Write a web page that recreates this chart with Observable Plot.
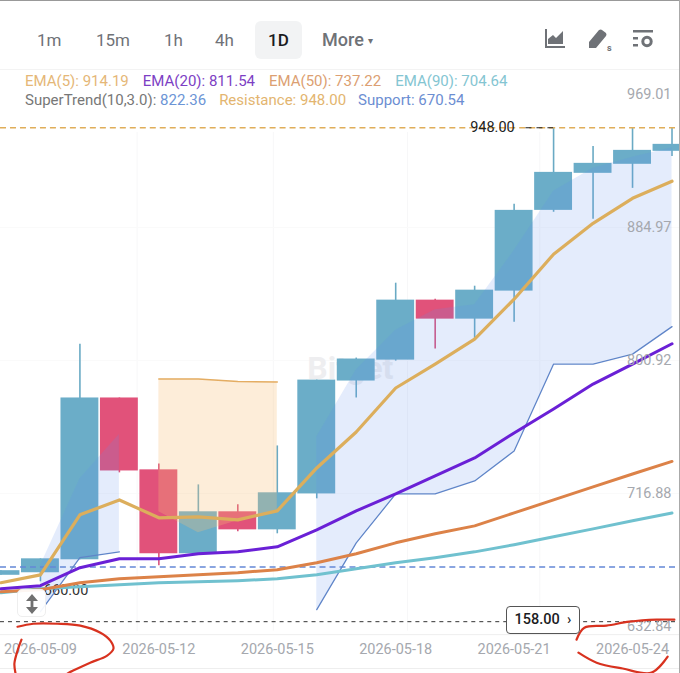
<!DOCTYPE html>
<html><head><meta charset="utf-8">
<script src="https://cdn.jsdelivr.net/npm/d3@7"></script>
<script src="https://cdn.jsdelivr.net/npm/@observablehq/plot@0.6"></script>
<style>
html,body{margin:0;padding:0;background:#fff;width:680px;height:673px;overflow:hidden;font-family:Roboto,sans-serif}
#page{position:relative;width:680px;height:673px;overflow:hidden;border-right:1px solid #aaa;box-sizing:border-box}
#bar{height:70px;position:relative;border-top:1px solid #999;box-sizing:border-box;border-bottom:1px solid #f3f3f3}
#bar span{position:absolute;top:28px;font-size:17px;line-height:22px;color:#6f7277}
#bar .more{font-size:18px;font-weight:500}
#bar .on{left:255px;top:20px;width:47px;height:38px;line-height:38px;background:#f2f3f4;border-radius:6px;text-align:center;color:#1b1c1e;font-weight:500}
#bar svg{position:absolute;top:27px}
#chart{position:absolute;left:0;top:71px}
#chart svg{display:block;overflow:visible}
.leg{position:absolute;left:25px;font-size:15px;line-height:18px;white-space:nowrap}
.leg b{font-weight:400;margin-right:14px}
#btn{position:absolute;left:17px;top:589px;width:29px;height:28px;box-sizing:border-box;background:rgba(255,255,255,.93);border:1px solid #eee;border-radius:5px}
#btn svg{display:block;margin:4px auto 0}
#box{position:absolute;left:506px;top:606px;width:74px;height:28px;box-sizing:border-box;background:#fff;border:1px solid #555;border-radius:4px;font-size:14.5px;font-weight:500;color:#1b1c1e;line-height:26px;text-align:center}
</style></head><body>
<div id="page">
<div id="bar">
<span style="left:37px">1m</span><span style="left:96px">15m</span><span style="left:164px">1h</span><span style="left:215px">4h</span>
<span class="on">1D</span><span class="more" style="left:322px">More <small style="font-size:10px;vertical-align:2px">▾</small></span>
<svg style="left:544px" width="22" height="22" viewBox="0 0 22 22" fill="#6f7277"><path d="M1 1v19h20v-2H3V1z"/><path d="M4 16v-5l5-4 3 3 7-7v13z"/></svg>
<svg style="left:588px" width="26" height="24" viewBox="0 0 26 24" fill="#6f7277"><path d="M1 14 11 2q2-1 3 0l4 3q1 2 0 3L8 20H1z"/><text x="19" y="23" font-size="9" font-weight="700" font-family="Roboto">s</text></svg>
<svg style="left:632px" width="22" height="22" viewBox="0 0 22 22" fill="#6f7277"><path d="M1 2h20v2.5H1zM1 9h5v2.5H1zM1 16h5v2.5H1z"/><circle cx="15" cy="13.5" r="4.2" fill="none" stroke="#6f7277" stroke-width="3"/></svg>
</div>
<div id="chart"></div>
<div class="leg" style="top:72px"><b style="color:#e5b777">EMA(5): 914.19</b><b style="color:#7d3fc4">EMA(20): 811.54</b><b style="color:#dc9f72">EMA(50): 737.22</b><b style="color:#84c5d2">EMA(90): 704.64</b></div>
<div class="leg" style="top:91px"><b style="color:#777;margin-right:0">SuperTrend(10,3.0): </b><b style="color:#6c95d6;margin-right:13px">822.36</b><b style="color:#e3b56f;margin-right:12px">Resistance: 948.00</b><b style="color:#6c8ed2">Support: 670.54</b></div>
<div id="btn"><svg width="14" height="20" viewBox="0 0 14 20" fill="#707070"><path d="M7 0l6 7H8.4v6H13l-6 7-6-7h4.6V7H1z"/></svg></div>
<div id="box">158.00 &nbsp;›</div>
</div>
<script>
const dates = ["2026-05-08","2026-05-09","2026-05-10","2026-05-11","2026-05-12","2026-05-13","2026-05-14","2026-05-15","2026-05-16","2026-05-17","2026-05-18","2026-05-19","2026-05-20","2026-05-21","2026-05-22","2026-05-23","2026-05-24","2026-05-25"];
const bodyTop = [668.2,675.7,777.3,777.3,731.9,705.4,705.4,717.4,788.6,801.9,839.1,839.1,845.4,895.8,919.8,925.5,933.7,937.5];
const bodyBot = [665.3,666.9,675.1,731.2,678.9,678.9,694.0,694.0,716.7,788.0,801.2,827.1,827.1,844.8,895.8,919.2,924.9,933.1];
const highs   = [668.2,675.7,811.3,777.3,735.6,722.4,709.8,747.0,788.6,802.5,849.8,839.7,847.9,899.6,948.0,936.2,948.0,948.0];
const lows    = [665.3,661.2,675.1,730.0,671.3,678.9,692.8,691.5,713.6,777.3,800.6,808.2,814.5,825.2,894.6,890.2,909.7,929.9];
const falling = [0,0,0,1,1,0,1,0,0,0,0,1,0,0,0,0,0,0];
const ema5  = [660.6,665.6,703.5,712.9,701.6,702.2,700.3,706.0,733.1,755.8,783.6,798.7,814.5,839.7,868.1,887.6,903.4,914.19];
const ema20 = [656.8,658.7,670.1,675.7,675.7,678.9,680.1,683.3,694.0,706.0,716.7,728.1,739.4,755.2,770.3,786.1,798.7,811.54];
const ema50 = [654.9,656.2,660.6,663.1,664.4,665.6,666.9,668.8,673.2,678.9,685.8,691.5,696.5,704.7,712.9,721.1,729.3,737.22];
const ema90 = [654.3,656.8,658.1,659.3,660.6,661.2,661.9,663.1,665.6,669.4,673.2,676.4,680.1,684.6,689.6,694.6,699.7,704.64];
const superTrend = [null,642.3,676.4,680.1,null,null,null,null,643.6,685.8,716.7,716.7,724.9,743.8,798.7,798.7,805.0,822.36];
const boxIdx   = [4,5,6,7];
const boxUpper = [789.3,789.3,787.7,787.4];
const boxLower = [705.4,692.2,699.8,706.0];
const resistance = 948.00, support = 670.54, lastPriceLine = 636.0;
const yTicks = [969.01,884.97,800.92,716.88,632.84];
const xTicks = [1,4,7,10,13,16];
const gridX = [3.45,6.9,10.3,13.65];
const frameLines = [627.8,606.4];
const seriesStyles = [[ema90,"#70c1cf"],[ema50,"#dc8248"],[ema20,"#6a20d6"],[ema5,"#dcae5c"]];
const stroke1x=[0.42,0.82,1.43,2.01,2.52,2.77,2.85,2.69,2.26,1.83,1.68], stroke1y=[632.8,634.7,634.7,633.5,629.0,624.0,619.0,614.6,610.1,605.1,603.2];
const stroke2x=[0.52,0.42,0.34,0.37], stroke2y=[624.6,617.7,609.5,603.2];
const stroke3x=[14.58,14.78,15.34,15.92,16.61,17.06], stroke3y=[624.6,632.2,633.5,636.0,637.3,637.3];
const stroke4x=[14.63,15.09,15.75,16.48,16.89], stroke4y=[616.4,610.1,606.4,603.8,613.9];

const idx = dates.map((_, i) => i);
const cloud = (from, to) => idx.slice(from, to + 1);
const cloudTop = i => (bodyTop[i] + bodyBot[i]) / 2;
const stl = (vals, color, w) => Plot.lineY(vals, {x: (_, i) => i, y: d => d, stroke: color, strokeWidth: w});
const hand = (xs, ys) => Plot.line(xs, {x: d => d, y: (_, i) => ys[i], stroke: "#d8321f", strokeWidth: 2.2, curve: "catmull-rom"});
const plot = Plot.plot({
  width: 680, height: 602, margin: 0, marginBottom: 39,
  style: {background: "transparent", fontFamily: "Roboto, sans-serif"},
  x: {type: "linear", domain: [0, 17], range: [0.47, 672.5]},
  y: {type: "linear", domain: [632.84, 969.01], range: [556, 23]},
  marks: [
    Plot.ruleX(gridX, {y1: 630, y2: 945, stroke: "#f7f7f8"}),
    Plot.ruleY(yTicks.slice(1, 4), {stroke: "#fafafa"}),
    Plot.text(["Bitget"], {x: [8.85], y: [795.6], fill: "#eeeef0", fontSize: 32, fontWeight: 700, textAnchor: "middle"}),
    Plot.ruleY([lastPriceLine], {stroke: "#333", strokeWidth: 1, strokeDasharray: "4,4"}),
    Plot.ruleY(frameLines, {stroke: "#eee"}),
    Plot.ruleX(idx, {x: d => d, y1: d => lows[d], y2: d => highs[d], stroke: d => falling[d] ? "#d9527c" : "#6aaac4", strokeWidth: 1.6}),
    Plot.rectY(idx, {x1: d => d - 0.48, x2: d => d + 0.48, y1: d => bodyBot[d], y2: d => bodyTop[d], fill: d => falling[d] ? "#e1527a" : "#6badc8"}),
    Plot.areaY(cloud(1, 3), {x: d => d, y1: d => superTrend[d], y2: cloudTop, fill: "rgba(95,140,235,.17)"}),
    Plot.areaY(cloud(8, 17), {x: d => d, y1: d => superTrend[d], y2: cloudTop, fill: "rgba(95,140,235,.17)"}),
    Plot.areaY(boxIdx, {x: d => d, y1: (_, i) => boxLower[i], y2: (_, i) => boxUpper[i], fill: "rgba(248,190,120,.28)"}),
    Plot.lineY(boxIdx, {x: d => d, y: (_, i) => boxUpper[i], stroke: "#e4ad63", strokeWidth: 1.6}),
    Plot.ruleY([resistance], {stroke: "#e0ae5a", strokeWidth: 1.3, strokeDasharray: "6,4"}),
    Plot.ruleY([support], {stroke: "#6488d6", strokeWidth: 1.3, strokeDasharray: "6,4"}),
    Plot.text(["660.00"], {x: [1.65], y: [656], fill: "#333", fontSize: 14.5}),
    Plot.line(cloud(1, 3), {x: d => d, y: d => superTrend[d], stroke: "#5f85c9", strokeWidth: 1.3}),
    Plot.line(cloud(8, 17), {x: d => d, y: d => superTrend[d], stroke: "#5f85c9", strokeWidth: 1.3}),
    ...seriesStyles.map(([v, c], i) => stl(v, c, i === 3 ? 3.2 : 3)),
    Plot.ruleY([resistance], {x1: 13.3, x2: 14, stroke: "#222", strokeWidth: 1.2, strokeDasharray: "6,5"}),
    Plot.text(["948.00"], {x: [12.45], y: [948], fill: "#222", fontSize: 14.5}),
    Plot.axisY(yTicks, {anchor: "right", tickSize: 0, tickPadding: 0, dx: -8, textAnchor: "end", tickFormat: d => d.toFixed(2), fill: "#a5a8ae", fontSize: 14.5, label: null}),
    Plot.axisX(xTicks, {anchor: "bottom", tickSize: 0, tickPadding: 10, tickFormat: d => dates[d], fill: "#a5a8ae", fontSize: 14.5, label: null}),
    hand(stroke1x, stroke1y), hand(stroke2x, stroke2y), hand(stroke3x, stroke3y), hand(stroke4x, stroke4y)
  ]
});
document.getElementById("chart").append(plot);
</script>
</body></html>
